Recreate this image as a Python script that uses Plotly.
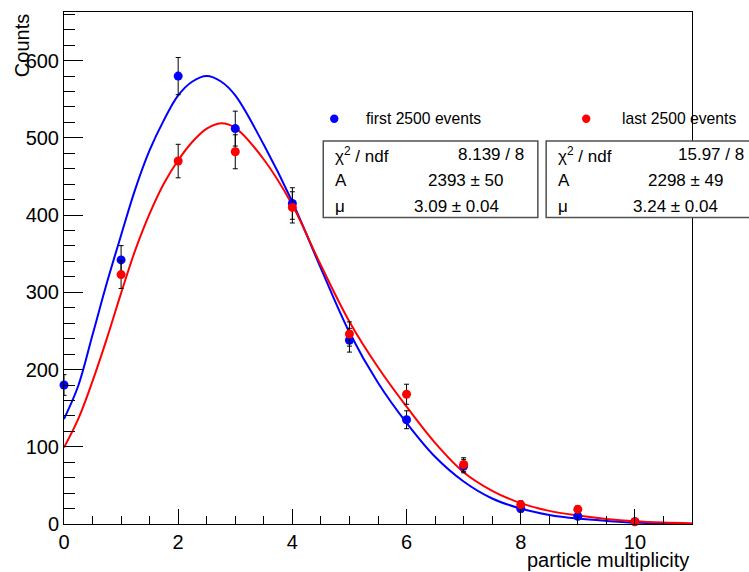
import plotly.graph_objects as go

# Measured multiplicity distributions (counts per multiplicity bin)
mult_first = [0, 1, 2, 3, 4, 5, 6, 7, 8, 9, 10]
counts_first = [180, 342, 580, 512, 415, 238, 135, 75, 20, 10, 3]
err_first = [13.4, 18.5, 24.1, 22.6, 20.4, 15.4, 11.6, 8.7, 4.5, 3.2, 1.7]

mult_last = [1, 2, 3, 4, 5, 6, 7, 8, 9, 10]
counts_last = [323, 470, 482, 410, 246, 168, 77, 25, 19, 3]
err_last = [18.0, 21.7, 22.0, 20.2, 15.7, 13.0, 8.8, 5.0, 4.4, 1.7]

# Fitted curves, sampled along the multiplicity axis
fit_x = [0, 0.25, 0.5, 0.75, 1.0, 1.25, 1.5, 1.75, 2.0, 2.25, 2.5, 2.75, 3.0,
         3.5, 4.0, 4.5, 5.0, 5.5, 6.0, 6.5, 7.0, 7.5, 8.0, 8.5, 9.0, 9.5,
         10.0, 10.5, 11.0]
fit_first = [136, 179, 245, 312, 374, 434, 484, 523, 555, 573, 580, 573, 555,
             491, 417, 331, 248, 183, 131, 87, 55, 33, 20, 11.8, 7, 4,
             1.8, 0.8, 0.3]
fit_last = [99, 136, 185, 240, 299, 355, 402, 441, 471, 495, 512, 519, 513,
            472, 413, 335, 262, 203, 152, 105, 67, 43, 27, 17, 11, 6.5,
            3.5, 1.8, 0.8]

# Fit summaries
stats_first = ["8.139 / 8", "2393 \u00b1 50", "3.09 \u00b1 0.04"]
stats_last = ["15.97 / 8", "2298 \u00b1 49", "3.24 \u00b1 0.04"]
stat_names = ["\u03c7<sup>2</sup> / ndf", "A", "\u03bc"]
legend_labels = ["first 2500 events", "last 2500 events"]

BLUE = "rgb(0,0,255)"
RED = "rgb(255,0,0)"
FONT = "Liberation Sans, Arial, Helvetica, sans-serif"

W, H = 749, 572
L, R, T, B = 64.3, 691.7, 11.7, 524.0
XMAX, YMAX = 11.0, 663.0


def px_x(p):
    return (p - L) / (R - L)


def px_y(p):
    return (B - p) / (B - T)


fig = go.Figure()

fig.add_trace(go.Scatter(x=fit_x, y=fit_first, mode="lines", line=dict(color=BLUE, width=2, shape="spline"),
                         showlegend=False, hoverinfo="skip"))
fig.add_trace(go.Scatter(x=fit_x, y=fit_last, mode="lines", line=dict(color=RED, width=2, shape="spline"),
                         showlegend=False, hoverinfo="skip"))
fig.add_trace(go.Scatter(x=mult_first, y=counts_first, mode="markers",
                         marker=dict(color=BLUE, size=9),
                         error_y=dict(type="data", array=err_first, color="black", thickness=1, width=2.5),
                         cliponaxis=False, showlegend=False))
fig.add_trace(go.Scatter(x=mult_last, y=counts_last, mode="markers",
                         marker=dict(color=RED, size=9),
                         error_y=dict(type="data", array=err_last, color="black", thickness=1, width=2.5),
                         cliponaxis=False, showlegend=False))

shapes = []
annotations = []

# Legend entries
for label, color, dot_px, text_px in [(legend_labels[0], BLUE, 334.3, 364.3),
                                       (legend_labels[1], RED, 586.0, 620.0)]:
    shapes.append(dict(type="circle", xref="paper", yref="paper", xsizemode="pixel", ysizemode="pixel",
                       xanchor=px_x(dot_px), yanchor=px_y(118.5), x0=-4.2, x1=4.2, y0=-4.2, y1=4.2,
                       fillcolor=color, line=dict(width=0), layer="above"))
    annotations.append(dict(x=px_x(text_px), y=px_y(118.5), xref="paper", yref="paper",
                            text=label, showarrow=False, xanchor="left", yanchor="middle",
                            font=dict(family=FONT, size=15.7, color="black")))

# Fit statistics boxes
row_y = [154.5, 180.5, 206.0]
for box_l, box_r, name_x, vals, val_pos in [
        (323.3, 537.7, 333.0, stats_first, [("right", 525.5), ("center", 465.6), ("center", 456.5)]),
        (546.0, 760.0, 556.0, stats_last, [("right", 745.5), ("center", 686.0), ("center", 675.5)])]:
    shapes.append(dict(type="rect", xref="paper", yref="paper",
                       x0=px_x(box_l), x1=px_x(box_r), y0=px_y(217.3), y1=px_y(140.7),
                       fillcolor="white", line=dict(color="rgb(80,80,80)", width=1.5), layer="above"))
    for i in range(3):
        annotations.append(dict(x=px_x(name_x), y=px_y(row_y[i]), xref="paper", yref="paper",
                                text=stat_names[i], showarrow=False, xanchor="left", yanchor="middle",
                                font=dict(family=FONT, size=17, color="black")))
        anchor, xpos = val_pos[i]
        annotations.append(dict(x=px_x(xpos), y=px_y(row_y[i]), xref="paper", yref="paper",
                                text=vals[i], showarrow=False, xanchor=anchor, yanchor="middle",
                                font=dict(family=FONT, size=17, color="black")))

# Axis titles
annotations.append(dict(x=px_x(22), y=1.0, xref="paper", yref="paper", text="Counts", textangle=-90,
                        showarrow=False, xanchor="center", yanchor="top",
                        font=dict(family=FONT, size=20, color="black")))
annotations.append(dict(x=px_x(690.5), y=px_y(560), xref="paper", yref="paper", text="particle multiplicity",
                        showarrow=False, xanchor="right", yanchor="middle",
                        font=dict(family=FONT, size=20, color="black")))

fig.update_layout(
    width=W, height=H,
    margin=dict(l=L, r=W - R, t=T, b=H - B, pad=0),
    paper_bgcolor="white", plot_bgcolor="white",
    font=dict(family=FONT, size=20, color="black"),
    shapes=shapes, annotations=annotations,
    xaxis=dict(range=[0, XMAX], dtick=2, tick0=0, showgrid=False, zeroline=False,
               showline=True, mirror=True, linecolor="black", linewidth=1,
               ticks="inside", ticklen=15, tickcolor="black", tickwidth=1,
               minor=dict(ticks="inside", ticklen=8, dtick=0.5, tickcolor="black", tickwidth=1, showgrid=False),
               tickfont=dict(family=FONT, size=20, color="black")),
    yaxis=dict(range=[0, YMAX], dtick=100, tick0=0, showgrid=False, zeroline=False,
               showline=True, mirror=True, linecolor="black", linewidth=1,
               ticks="inside", ticklen=19, tickcolor="black", tickwidth=1,
               minor=dict(ticks="inside", ticklen=11, dtick=20, tickcolor="black", tickwidth=1, showgrid=False),
               tickfont=dict(family=FONT, size=20, color="black")),
)

fig.write_html("out.html")
